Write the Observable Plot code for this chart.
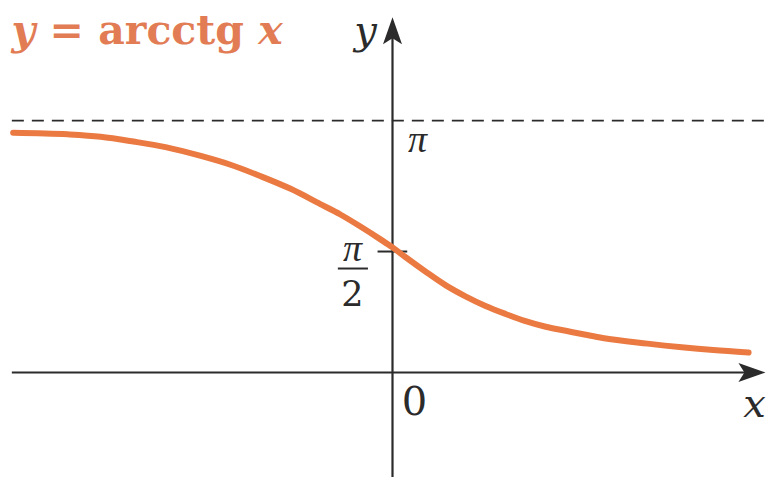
<!DOCTYPE html>
<html>
<head>
<meta charset="utf-8">
<script src="https://cdn.jsdelivr.net/npm/d3@7"></script>
<script src="https://cdn.jsdelivr.net/npm/@observablehq/plot@0.6"></script>
<style>
  html, body { margin: 0; padding: 0; background: #fff; }
  #chart svg { display: block; }
</style>
</head>
<body>
<div id="chart"></div>
<script>
// ---- data (x in units, y in radians) ----
const curveX = [-4.73, -4.05, -3.64, -3.23, -2.83, -2.39, -2.02, -1.65, -1.27, -0.90, -0.65, -0.40, -0.15, 0, 0.16, 0.41, 0.66, 0.91, 1.16, 1.41, 1.66, 1.91, 2.16, 2.41, 2.62, 3.18, 4.00, 4.44];
const curveY = [2.99, 2.97, 2.94, 2.88, 2.81, 2.70, 2.59, 2.45, 2.29, 2.10, 1.97, 1.82, 1.66, 1.56, 1.44, 1.26, 1.09, 0.95, 0.83, 0.73, 0.64, 0.57, 0.52, 0.47, 0.43, 0.36, 0.28, 0.25];
const asymptote = [Math.PI];
const halfPi = [Math.PI / 2];
const titleText = "y = arcctg x";
const piLabel = ["π"];
const fracTop = ["π"];
const fracBottom = ["2"];
const originLabel = ["0"];
const xAxisLabel = ["x"];
const yAxisLabel = ["y"];

// axis extents (data units)
const xMin = -4.74, xTip = 4.65;
const yMin = -1.31, yTip = 4.43;

const k = 80.2; // px per unit
const curveColor = "#eb7a42";
const axisColor = "#2b2b2b";
const serif = "DejaVu Serif, Liberation Serif, serif";
const times = "Liberation Serif, DejaVu Serif, serif";

const points = curveX.map((x, i) => ({x, y: curveY[i]}));

const arrowUp = {
  draw(ctx) {
    ctx.moveTo(0, 0);
    ctx.lineTo(9.5, 27);
    ctx.lineTo(0, 21);
    ctx.lineTo(-9.5, 27);
    ctx.closePath();
  }
};
const arrowRight = {
  draw(ctx) {
    ctx.moveTo(0, 0);
    ctx.lineTo(-27, -9.5);
    ctx.lineTo(-21, 0);
    ctx.lineTo(-27, 9.5);
    ctx.closePath();
  }
};

const chart = Plot.plot({
  width: 768,
  height: 479,
  margin: 0,
  x: {domain: [-392 / k, 376 / k], axis: null},
  y: {domain: [-107 / k, 372 / k], axis: null},
  marks: [
    Plot.ruleY(asymptote, {x1: xMin, x2: 376 / k, stroke: axisColor, strokeWidth: 1.8, strokeDasharray: "12,8"}),
    Plot.ruleY([0], {x1: xMin, x2: xTip - 0.25, stroke: axisColor, strokeWidth: 2.2}),
    Plot.ruleX([0], {y1: yMin, y2: yTip - 0.25, stroke: axisColor, strokeWidth: 2.2}),
    Plot.dot([0], {x: xTip, y: 0, symbol: arrowRight, fill: axisColor, stroke: "none"}),
    Plot.dot([0], {x: 0, y: yTip, symbol: arrowUp, fill: axisColor, stroke: "none"}),
    Plot.ruleY(halfPi, {x1: -0.18, x2: 0.19, dy: 5, stroke: axisColor, strokeWidth: 2}),
    Plot.ruleY(halfPi, {x1: -0.675, x2: -0.30, dy: 22, stroke: axisColor, strokeWidth: 2}),
    Plot.line(points, {x: "x", y: "y", curve: "monotone-x", stroke: curveColor, strokeWidth: 6}),
    Plot.text(piLabel, {x: 0, y: asymptote[0], text: d => d, dx: 25, dy: 19, fontSize: 38, fontStyle: "italic", fontFamily: times, fill: axisColor}),
    Plot.text(fracTop, {x: 0, y: halfPi[0], text: d => d, dx: -40, dy: 2, fontSize: 38, fontStyle: "italic", fontFamily: times, fill: axisColor}),
    Plot.text(fracBottom, {x: 0, y: halfPi[0], text: d => d, dx: -40, dy: 48, fontSize: 35, fontFamily: serif, fill: axisColor}),
    Plot.text(originLabel, {x: 0, y: 0, text: d => d, dx: 22, dy: 30, fontSize: 40, fontFamily: serif, fill: axisColor}),
    Plot.text(xAxisLabel, {x: xTip, y: 0, text: d => d, dx: -11, dy: 32, fontSize: 40, fontStyle: "italic", fontFamily: serif, fill: axisColor}),
    Plot.text(yAxisLabel, {x: 0, y: yTip, text: d => d, dx: -27, dy: 14, fontSize: 40, fontStyle: "italic", fontFamily: serif, fill: axisColor}),
    Plot.text([titleText], {frameAnchor: "top-left", text: d => d, textAnchor: "start", lineAnchor: "top", dx: 11, dy: 14, fontSize: 41, fontWeight: "bold", fontFamily: serif, fill: "#e27c55"})
  ]
});

// italicise the variables in the title
d3.select(chart).selectAll("text").filter(function() { return this.textContent === titleText; })
  .each(function() {
    const t = d3.select(this);
    t.text(null);
    t.append("tspan").attr("font-style", "italic").text("y");
    t.append("tspan").text(" = arcctg ");
    t.append("tspan").attr("font-style", "italic").text("x");
  });

document.getElementById("chart").appendChild(chart);
</script>
</body>
</html>
